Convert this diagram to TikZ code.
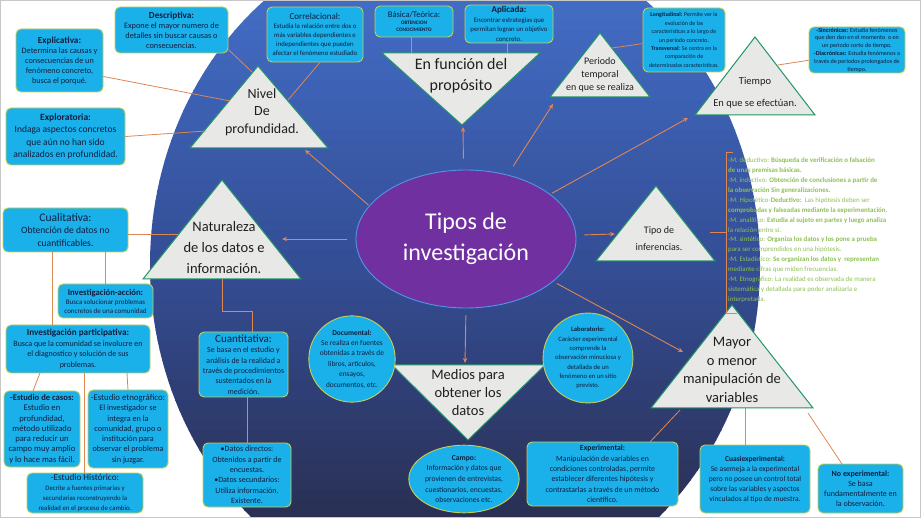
\documentclass[tikz,border=0pt]{standalone}
\usepackage{fontspec}
\setmainfont{Carlito}
\usetikzlibrary{arrows.meta,shapes.geometric}
\definecolor{boxfill}{RGB}{26,176,234}
\definecolor{boxline}{RGB}{196,206,84}
\definecolor{triline}{RGB}{34,150,104}
\definecolor{trifill}{RGB}{232,232,230}
\definecolor{conn}{RGB}{222,135,82}
\definecolor{txt}{RGB}{16,30,62}
\definecolor{mgreen}{RGB}{140,192,84}
\definecolor{purp}{RGB}{112,48,160}
\definecolor{purpline}{RGB}{80,150,230}
\definecolor{bgtop}{RGB}{66,108,196}
\definecolor{bgmid}{RGB}{52,78,150}
\definecolor{bgbot}{RGB}{42,48,84}
\newcommand\fs[2]{\fontsize{#1}{#2}\selectfont}
\newcommand\ttl[2]{{\fontsize{#1}{#1}\selectfont\bfseries #2}}
\tikzset{
  bx/.style={draw=boxline, line width=0.9pt, fill=boxfill, rounded corners=5pt, text=txt, align=center, inner sep=0.5pt},
  cbx/.style={draw=boxline, line width=0.9pt, fill=boxfill, text=txt, align=center, inner sep=0pt},
  tri/.style={draw=triline, line width=1pt, fill=trifill},
  tt/.style={text=black!88, align=center, inner sep=0pt},
  cn/.style={draw=conn, line width=0.8pt},
  ar/.style={draw=conn, line width=0.9pt, -{Stealth[length=5pt,width=4.5pt]}}
}
\begin{document}
\begin{tikzpicture}[x=1pt,y=-1pt]
\useasboundingbox (0,0) rectangle (921,518);
\fill[white] (0,0) rectangle (921,518);
\begin{scope}
\clip (455,265) ellipse [x radius=305, y radius=339];
\foreach \i in {0,...,25} {\pgfmathtruncatemacro\p{\i*4}
  \fill[bgmid!\p!bgtop] (0,\i*10) rectangle (921,\i*10+10.6);}
\foreach \i in {26,...,51} {\pgfmathtruncatemacro\p{(\i-26)*4}
  \fill[bgbot!\p!bgmid] (0,\i*10) rectangle (921,\i*10+10.6);}
\end{scope}
\draw[black!22, line width=0.8pt] (0.4,0.4) rectangle (920.6,517.6);

% ---------- triangles ----------
\coordinate (nivA) at (258,66); \coordinate (nivB) at (190,148); \coordinate (nivC) at (328,148);
\draw[tri] (nivA) -- (nivB) -- (nivC) -- cycle;
\node[tt, font=\fs{14}{17.5}] (nivel) at (262,112) {Nivel\\De\\profundidad.};

\coordinate (funA) at (382,53); \coordinate (funB) at (540,53); \coordinate (funC) at (462,125);
\draw[tri] (funA) -- (funB) -- (funC) -- cycle;
\node[tt, font=\fs{16}{21}] (funcion) at (461,75.5) {En función del\\propósito};

\coordinate (perA) at (600,33); \coordinate (perB) at (550,97); \coordinate (perC) at (650,97);
\draw[tri] (perA) -- (perB) -- (perC) -- cycle;
\node[tt, font=\fs{10}{13}] (periodo) at (600,75) {Periodo\\temporal\\en que se realiza};

\coordinate (tieA) at (755,37); \coordinate (tieB) at (695,115); \coordinate (tieC) at (815,115);
\draw[tri] (tieA) -- (tieB) -- (tieC) -- cycle;
\node[tt, font=\fs{10.5}{22}] (tiempo) at (755,93) {Tiempo\\En que se efectúan.};

\coordinate (infA) at (656,186); \coordinate (infB) at (596,261); \coordinate (infC) at (715,261);
\draw[tri] (infA) -- (infB) -- (infC) -- cycle;
\node[tt, font=\fs{10}{16.5}] (infer) at (659,238.5) {Tipo de\\inferencias.};

\coordinate (natA) at (222,180); \coordinate (natB) at (143,279); \coordinate (natC) at (301,279);
\draw[tri] (natA) -- (natB) -- (natC) -- cycle;
\node[tt, font=\fs{14.5}{21}] (natur) at (224,248) {Naturaleza\\de los datos e\\información.};

\coordinate (medA) at (392,365); \coordinate (medB) at (545,365); \coordinate (medC) at (468,440);
\draw[tri] (medA) -- (medB) -- (medC) -- cycle;
\node[tt, font=\fs{14.5}{18}] (medios) at (468,393) {Medios para\\obtener los\\datos};

\coordinate (mayA) at (732,305); \coordinate (mayB) at (651,408); \coordinate (mayC) at (813,408);
\draw[tri] (mayA) -- (mayB) -- (mayC) -- cycle;
\node[tt, font=\fs{14.5}{18.7}] (mayor) at (732,370) {Mayor\\o menor\\manipulación de\\variables};

% ---------- centre ----------
\node[ellipse, draw=purpline, line width=0.9pt, fill=purp, minimum width=220, minimum height=138, inner sep=0pt,
      text=white, align=center, font=\fs{24}{31}] (tipos) at (466,239) {Tipos de\\investigación};

% ---------- boxes ----------
\node[bx, minimum width=113, minimum height=46, font=\fs{8.3}{10}] (desc) at (171.5,30)
  {\ttl{9.2}{Descriptiva:}\\Expone el mayor numero de\\detalles sin buscar causas o\\consecuencias.};
\node[bx, minimum width=87, minimum height=63, font=\fs{8.2}{10}] (expl) at (59.5,60.5)
  {\ttl{9.2}{Explicativa:}\\Determina las causas y\\consecuencias de un\\fenómeno concreto,\\busca el porqué.};
\node[bx, minimum width=119, minimum height=57, font=\fs{9.5}{12.3}] (expo) at (65.5,136.5)
  {\ttl{9.5}{Exploratoria:}\\Indaga aspectos concretos\\que aún no han sido\\analizados en profundidad.};
\node[bx, minimum width=96, minimum height=55, font=\fs{6.8}{9.2}] (corr) at (315,34.5)
  {{\fs{9}{9}Correlacional:}\\Estudia la relación entre dos o\\más variables dependientes e\\independientes que pueden\\afectar el fenómeno estudiado};
\node[bx, minimum width=78, minimum height=31, font=\fs{5.2}{7}] (bas) at (414,21.5)
  {{\fs{8.6}{9}Básica/Teórica:}\\\textbf{OBTENCION}\\\textbf{CONOCIMIENTO}};
\node[bx, minimum width=88, minimum height=38, font=\fs{6.8}{9.5}] (apl) at (509,24)
  {\ttl{9}{Aplicada:}\\Encontrar estrategias que\\permitan logran un objetivo\\concreto.};
\node[bx, minimum width=82, minimum height=64, font=\fs{5.9}{8.4}] (longi) at (684,40)
  {\textbf{Longitudinal:} Permite ver la\\evolución de las\\características a lo largo de\\un periodo concreto.\\\textbf{Transversal:} Se centra en la\\comparación de\\determinadas características.};
\node[bx, minimum width=96, minimum height=46, font=\fs{6.1}{7.8}] (sinc) at (857,50)
  {\textbf{-Sincrónicas:} Estudia fenómenos\\que den dan en el momento\ \ o en\\un periodo corto de tiempo.\\\textbf{-Diacrónicas:} Estudia fenómenos a\\través de periodos prolongados de\\tiempo.};
\node[bx, minimum width=125, minimum height=44, font=\fs{9.6}{12.5}] (cual) at (65.5,230)
  {{\fs{11.5}{12}Cualitativa:}\\Obtención de datos no\\cuantificables.};
\node[bx, minimum width=95, minimum height=34, font=\fs{7}{9}] (iacc) at (105.5,301)
  {\ttl{8.7}{Investigación-acción:}\\Busca solucionar problemas\\concretos de una comunidad};
\node[bx, minimum width=144, minimum height=48, font=\fs{8}{10.7}] (ipart) at (78,349)
  {\ttl{9.2}{Investigación participativa:}\\Busca que la comunidad se involucre en\\el diagnostico y solución de sus\\problemas.};
\node[bx, minimum width=76, minimum height=76, font=\fs{8.6}{10.3}] (casos) at (42,429)
  {\ttl{8.6}{-Estudio de casos:}\\Estudio en\\profundidad,\\método utilizado\\para reducir un\\campo muy amplio\\y lo hace mas fácil.};
\node[bx, minimum width=80, minimum height=78, font=\fs{8.2}{10.3}] (etno) at (128,429)
  {{\fs{8.8}{9}-Estudio etnográfico:}\\El investigador se\\integra en la\\comunidad, grupo o\\institución para\\observar el problema\\sin juzgar.};
\node[bx, minimum width=116, minimum height=40, font=\fs{6.8}{10.2}] (hist) at (85,493)
  {{\fs{9.2}{9}-Estudio Histórico:}\\Decrite a fuentes primarias y\\secundarias reconstruyendo la\\realidad en el proceso de cambio.};
\node[bx, minimum width=89, minimum height=65, font=\fs{7.9}{10.4}] (cuant) at (243.5,364.5)
  {{\fs{11}{11}Cuantitativa:}\\Se basa en el estudio y\\análisis de la realidad a\\través de procedimientos\\sustentados en la\\medición.};
\node[bx, minimum width=88, minimum height=64, font=\fs{8}{10.4}] (datos) at (247,475)
  {•Datos directos:\\Obtenidos a partir de\\encuestas.\\•Datos secundarios:\\Utiliza información.\\Existente.};
\node[cbx, circle, minimum size=80, font=\fs{7.4}{10.4}] (docu) at (352,359)
  {\textbf{Documental:}\\Se realiza en fuentes\\obtenidas a través de\\libros, artículos,\\ensayos,\\documentos, etc.};
\node[cbx, circle, minimum size=80, font=\fs{6.6}{9.3}] (labo) at (588,358)
  {\textbf{Laboratorio:}\\Carácter experimental\\comprende la\\observación minuciosa y\\detallada de un\\fenómeno en un sitio\\previsto.};
\node[cbx, ellipse, minimum width=98, minimum height=66, font=\fs{7.6}{10.7}] (campo) at (464,479)
  {\textbf{Campo:}\\Información y datos que\\provienen de entrevistas,\\cuestionarios, encuestas,\\observaciones etc.};
\node[bx, minimum width=151, minimum height=64, font=\fs{7.8}{10.4}] (exper) at (602.5,474)
  {\textbf{Experimental:}\\Manipulación de variables en\\condiciones controladas, permite\\establecer diferentes hipótesis y\\contrastarlas a través de un método\\científico.};
\node[bx, minimum width=110, minimum height=68, font=\fs{7.5}{10}] (cuasi) at (755,479)
  {\textbf{Cuasiexperimental:}\\Se asemeja a la experimental\\pero no posee un control total\\sobre las variables y aspectos\\vinculados al tipo de muestra.};
\node[bx, minimum width=85, minimum height=49, font=\fs{8}{10}] (noexp) at (860.5,488.5)
  {\textbf{No experimental:}\\Se basa\\fundamentalmente en\\la observación.};

% ---------- green text ----------
\node[anchor=north west, inner sep=0pt, align=left, text=mgreen, font=\fs{6.9}{9.93}] (metodos) at (728,157.5)
  {-M. deductivo: \textbf{Búsqueda de verificación o falsación}\\
   \textbf{de unas premisas básicas.}\\
   -M. inductivo: \textbf{Obtención de conclusiones a partir de}\\
   \textbf{la observación Sin generalizaciones.}\\
   -M. Hipotético-\textbf{Deductivo:}\ \ Las hipótesis deben ser\\
   \textbf{comprobadas y falseadas mediante la experimentación.}\\
   -M. analítico: \textbf{Estudia al sujeto en partes y luego analiza}\\
   la relación entre sí.\\
   -M. sintético: \textbf{Organiza los datos y los pone a prueba}\\
   para ser comprendidos en una hipótesis.\\
   -M. Estadístico: \textbf{Se organizan los datos y\ \ representan}\\
   mediante cifras que miden frecuencias.\\
   -M. Etnográfico: La realidad es observada de manera\\
   sistemática y detallada para poder analizarla e\\
   interpretarla.};

% brace
\coordinate (brT) at (733,152); \coordinate (brTc) at (726,152);
\coordinate (brBc) at (726,313); \coordinate (brB) at (737,313);
\coordinate (brM) at (726,232); \coordinate (brL) at (710,232);
\draw[cn] (brT) -- (brTc) -- (brBc) -- (brB);
\draw[cn] (brM) -- (brL);

% ---------- arrows from centre ----------
\coordinate (aNiv) at (305,150);
\coordinate (aFun) at (463,127);
\coordinate (aPer) at (553,104);
\coordinate (aTie) at (688,118);
\coordinate (aInf) at (615,234);
\coordinate (aMay) at (683,352);
\coordinate (aMed) at (465,363);
\coordinate (aNat) at (282,239);
\draw[ar, shorten <=1pt] (tipos.161) -- (aNiv);
\draw[ar, shorten <=11pt] (tipos.92) -- (aFun);
\draw[ar, shorten <=10pt] (tipos.57) -- (aPer);
\draw[ar, shorten <=2pt] (tipos.28) -- (aTie);
\draw[ar, shorten <=8pt] (tipos.2) -- (aInf);
\draw[ar, shorten <=4pt] (tipos.-26) -- (aMay);
\draw[ar, shorten <=7pt] (tipos.-90) -- (aMed);
\draw[ar, shorten <=9pt] (tipos.west) -- (aNat);

% ---------- other connectors ----------
\coordinate (nivL1) at (230,101);
\coordinate (nivL2) at (206,131);
\coordinate (nivAp) at (252,72);
\coordinate (nivR) at (288,100);
\draw[cn] (expl.-20) -- (nivL1);
\draw[cn] (expo.east) -- (nivL2);
\draw[cn] (desc.-19) -- (nivAp);
\draw[cn] (corr.-80) -- (nivR);

\coordinate (fBas) at (411,53);
\coordinate (fApl) at (507,53);
\draw[cn] (fBas |- bas.south) -- (fBas);
\draw[cn] (fApl |- apl.south) -- (fApl);

\coordinate (perR) at (612,48);
\draw[cn] (perR) -- (longi.-175);
\coordinate (tieR) at (778,65);
\draw[cn] (tieR) -- (sinc.-168);

\coordinate (natL) at (178,234);
\draw[cn] (natL -| cual.east) -- (natL);
\draw[cn] (cual.south -| iacc.north) -- (iacc.north);
\coordinate (cpX) at (52,300);
\draw[cn] (cual.south -| cpX) -- (ipart.north -| cpX);

\coordinate (natBot) at (222,279);
\coordinate (natEl) at (222,311);
\coordinate (cuEl) at (252,311);
\draw[cn] (natBot) -- (natEl) -- (cuEl) -- (cuEl |- cuant.north);
\coordinate (cdX) at (247,420);
\draw[cn] (cuant.south -| cdX) -- (datos.north -| cdX);

\coordinate (pcA) at (40,373); \coordinate (pcB) at (33,391);
\draw[cn] (pcA) -- (pcB);
\coordinate (peA) at (127,373); \coordinate (peB) at (128,390);
\draw[cn] (peA) -- (peB);
\coordinate (phX) at (84,420);
\draw[cn] (ipart.south -| phX) -- (hist.north -| phX);

\coordinate (mEx) at (680,410); \coordinate (exT) at (650,442);
\draw[cn] (mEx) -- (exT);
\coordinate (mCu) at (745,408);
\draw[cn] (mCu) -- (mCu |- cuasi.north);
\coordinate (mNo) at (808,413); \coordinate (noT) at (842,464);
\draw[cn] (mNo) -- (noT);
\end{tikzpicture}
\end{document}
